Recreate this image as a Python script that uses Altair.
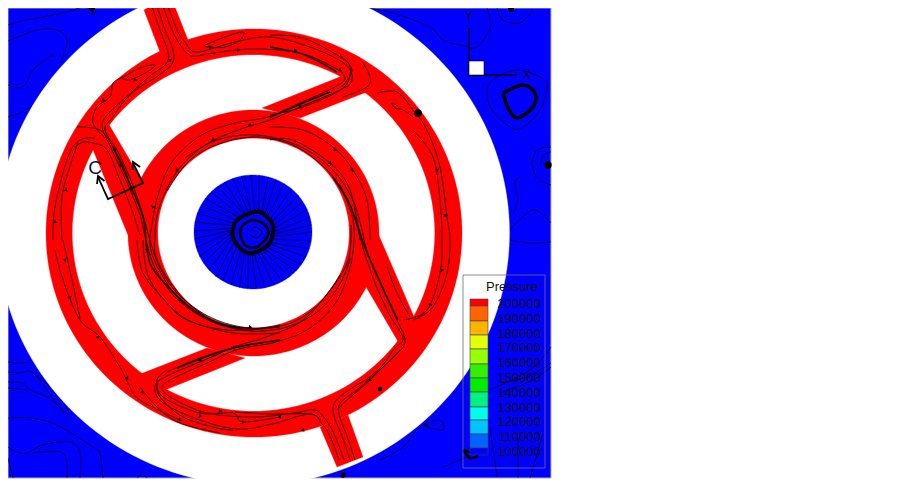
import math
import altair as alt
import pandas as pd

FRAME = [8, 551, 8, 478]
WHITE_DISC = (253.5, 233, 256, 252)
OUTER_RING = (254, 233, 208, 204)
OUTER_HOLE = (253.5, 233, 181, 178)
INNER_RING = (253.5, 233, 125.5, 123)
INNER_HOLE = (253.5, 233, 95.5, 94.5)
HUB = (253, 232, 59, 57)

BANDS = [
    [(352, 72), (377, 88), (300, 118), (262, 108)],
    [(104, 116), (145, 186), (128, 235), (89, 140)],
    [(418, 326), (403, 350), (362, 280), (377, 231)],
    [(155, 394), (130, 378), (207, 348), (245, 358)],
    [(144, 10), (157, 2), (173, 2), (188, 40), (160, 52)],
    [(320, 427), (348, 415), (363, 457), (337, 467)],
]

RED_STREAMS = [
    [(152,6),(160,30),(168,52),(166,64),(150,76),(132,92),(112,110),(102,125),(112,150),(128,185),(140,215),(146,240),(155,268),(176,298),(208,320),(250,331),(290,326),(322,308),(342,280),(350,258)],
    [(157,6),(165,30),(173,50),(172,64),(155,78),(140,87),(125,100),(113,117),(105,130),(118,152),(132,183),(143,215),(150,240),(160,268),(180,296),(212,318),(250,328),(288,324),(318,305),(340,275)],
    [(163,6),(172,30),(181,46),(192,56),(213,53),(253,49),(300,53),(335,68),(345,78),(335,87),(300,103),(268,117),(235,123),(200,136),(172,162),(158,195),(152,225),(150,245),(158,268),(180,300),(213,322),(247,329),(280,325)],
    [(168,6),(177,30),(185,42),(197,52),(235,42),(270,37),(310,47),(345,64),(352,80),(340,90),(300,107),(270,120),(238,130),(205,145),(178,170),(160,205),(155,235),(158,262),(185,300),(218,323),(250,328)],
    [(355,460),(347,436),(339,414),(341,402),(357,390),(375,374),(395,356),(405,341),(395,316),(379,281),(367,251),(361,226),(352,198),(331,168),(299,146),(257,135),(217,140),(185,158)],
    [(350,460),(342,436),(334,416),(335,402),(352,388),(367,379),(382,366),(394,349),(403,338),(389,314),(375,283),(364,251),(357,226),(347,198),(327,170),(295,146),(257,137),(219,144),(189,161),(167,191)],
    [(344,460),(335,436),(326,420),(315,410),(294,413),(254,417),(207,413),(172,398),(162,388),(172,379),(207,363),(239,349),(272,343),(307,330),(335,304),(349,271),(354,241),(352,215),(340,185)],
    [(339,460),(330,436),(322,424),(310,414),(272,424),(237,429),(197,419),(162,402),(155,386),(167,376),(207,359),(237,346),(269,336),(302,321),(327,294),(348,261),(351,225)],
    [(205,45),(225,37),(243,32),(240,40),(225,47),(207,47),(205,45)],
    [(122,78),(140,68),(155,65),(147,72),(130,80),(122,78)],
    [(123,77),(113,83),(110,97),(97,107),(93,123),(105,138)],
    [(77,127),(100,130),(113,147),(125,170),(133,195)],
    [(75,147),(83,142),(93,143),(107,150),(120,180),(132,210),(140,235)],
    [(62,240),(62,197),(72,160),(78,143)],
    [(53,240),(55,207),(68,157),(80,140),(95,138)],
    [(55,250),(63,280),(80,320),(100,337),(120,367),(128,383),(140,400),(180,420)],
    [(63,240),(72,280),(80,318)],
    [(140,387),(157,407),(180,423),(220,433)],
    [(157,383),(160,397),(183,417),(217,428),(233,430)],
    [(167,370),(157,380),(163,397),(200,413),(233,413),(243,422),(280,417)],
    [(280,340),(233,348),(200,358),(167,372)],
    [(320,420),(310,414),(270,414),(235,412)],
    [(337,410),(347,400),(370,380),(400,350)],
    [(377,93),(397,92),(413,110),(427,130),(440,167),(447,217),(450,240),(447,273),(433,307),(413,320)],
    [(413,130),(433,157),(440,200),(442,240),(440,273),(427,310),(403,320)],
    [(387,267),(397,293),(410,317)],
    [(398,106),(392,103),(395,108),(403,110),(413,117)],
    [(363,63),(370,77),(367,87),(343,97)],
    [(340,55),(352,70),(342,87)],
    [(270,35),(303,38),(337,55),(350,67),(343,88),(303,107),(270,115)],
    [(270,127),(303,130),(333,147),(353,170),(367,200),(370,240)],
    [(270,140),(293,140),(330,163),(350,190),(360,240)],
    [(137,240),(143,273),(167,303),(187,320),(233,333),(280,333)],
    [(143,240),(150,280),(183,317),(227,330),(280,327)],
]

DARK_STREAMS = [
    [(113,147),(128,180),(143,217),(147,250),(155,272),(187,305),(213,321),(240,328)],
    [(333,177),(350,205),(360,233),(366,250),(387,297),(398,320)],
    [(270,117),(303,103),(330,92)],
    [(270,47),(305,55),(337,72)],
    [(177,368),(230,349),(280,340)],
]

BLUE_STREAMS = [
    [(8,25),(27,20),(43,17),(67,12),(80,8),(90,9),(95,15),(88,13)],
    [(8,41),(23,35),(37,30),(57,30),(67,40),(63,57),(60,63)],
    [(8,85),(23,87),(33,70),(50,57),(55,57)],
    [(8,117),(20,113),(32,106)],
    [(367,8),(393,13),(430,27),(443,40),(460,45),(477,47),(490,27),(487,8)],
    [(497,8),(503,20),(520,23),(533,10)],
    [(487,87),(497,77),(517,70),(540,77),(547,87),(540,110),(523,127),(510,127),(490,107),(487,87)],
    [(532,163),(537,150),(551,147)],
    [(532,163),(537,178),(551,185)],
    [(540,165),(544,155),(551,152)],
    [(513,213),(518,200),(515,183),(520,177)],
    [(510,230),(533,210),(551,223)],
    [(510,240),(530,243),(551,242)],
    [(500,383),(527,377),(551,363)],
    [(500,393),(533,380),(551,367)],
    [(490,390),(530,370),(551,347)],
    [(380,460),(403,447),(420,427),(440,420),(443,430),(427,427)],
    [(443,467),(467,457),(477,453)],
    [(490,427),(497,477)],
    [(518,437),(518,478)],
    [(543,433),(530,478)],
    [(8,362),(20,363),(30,362)],
    [(8,372),(20,373),(32,372),(47,390),(63,412),(68,410),(50,387),(33,373)],
    [(8,382),(23,383),(30,390),(47,397),(63,410)],
    [(8,388),(27,390)],
    [(8,418),(30,418),(57,425),(93,447),(100,453)],
    [(8,447),(17,452),(27,453),(43,445),(70,442),(80,453),(80,478)],
    [(100,450),(103,478)],
    [(33,453),(63,453),(67,478)],
    [(8,458),(13,478)],
    [(137,478),(142,474),(147,478)],
]

THICK_STREAMS = [
    ([(235,222),(245,215),(260,212),(272,223),(273,233),(268,245),(253,253),(242,250),(233,237),(235,222)], 4),
    ([(243,225),(253,220),(265,225),(268,235),(257,247),(245,245),(240,233),(243,225)], 2.6),
    ([(250,232),(255,227),(262,232),(257,238),(250,235)], 1),
    ([(503,93),(523,85),(535,93),(533,107),(517,118),(508,108),(503,93)], 3.4),
    ([(463,450),(477,455),(470,458),(463,450)], 2.5),
]

DOTS = [(418, 113, 60), (380, 389, 22), (92, 8, 40), (511, 9, 35), (548, 165, 55), (343, 475, 30), (426, 425, 10)]

ARROWS = [
    (55,222,0),(66,190,10),(65,260,165),(70,298,155),(98,337,145),(127,378,150),(142,392,140),
    (200,416,105),(220,411,95),(243,422,100),(180,420,110),(115,150,150),(120,165,150),(170,60,60),
    (135,80,-135),(103,100,-140),(210,47,80),(238,50,85),(295,50,100),(340,70,120),(335,150,120),
    (330,163,135),(352,170,150),(437,170,165),(445,215,175),(442,270,190),(430,305,210),
    (370,380,225),(303,430,260),(280,417,265),(200,360,245),(233,348,255),(153,207,190),
    (177,170,210),(213,140,240),(250,125,265),(300,107,250),(147,250,170),(180,300,135),(250,327,95),
]

SPOKES = [0, 9, 17, 26, 35, 43, 52, 60, 69, 78, 87, 95, 103, 112, 121, 129, 138, 147, 155, 164, 173, 181,
          190, 199, 208, 216, 225, 233, 241, 250, 259, 268, 276, 285, 293, 302, 311, 320, 328, 337, 345, 353]
SPOKE_SWIRL = [14, 12, 15, 10, 12, 14, 10, 12, 8, 10, 6, 8, 12, 14, 20, 24, 28, 26, 24, 20, 14, 10,
               8, 6, 8, 10, 8, 10, 6, 8, 6, 8, 10, 10, 12, 12, 14, 14, 16, 14, 16, 14]

SECTION = [(133, 163), (143, 183), (108, 199), (98, 177)]
SECTION_HEADS = [[(132.5, 170), (133, 162), (140, 167)], [(97, 184), (98, 176), (104.5, 181)]]

AXIS_TRIAD = [(469, 28), (469, 75), (517, 75)]
AXIS_BOX = (469, 484, 61, 75)

LEGEND_BOX = (463, 545, 275, 468)
LEGEND_EDGES = [299, 306, 321, 335, 349, 364, 378, 392, 407, 420, 434, 448, 455]
LEGEND_COLORS = ["#ff0000", "#ff6400", "#ffb400", "#e6ff00", "#96ff00", "#32f000", "#00ee00",
                 "#00f082", "#00ffe6", "#00c3ff", "#0064ff", "#0000ff"]
LEGEND_LABELS = ["200000", "190000", "180000", "170000", "160000", "150000", "140000",
                 "130000", "120000", "110000", "100000"]
LEGEND_Y0, LEGEND_STEP = 304, 14.8

X = alt.X("x:Q", scale=alt.Scale(domain=[8, 553], nice=False, zero=False), axis=None)
Y = alt.Y("y:Q", scale=alt.Scale(domain=[479, 8], nice=False, zero=False), axis=None)
X2, Y2 = alt.X2("x2:Q"), alt.Y2("y2:Q")


def ellipse(spec):
    cx, cy, rx, ry = spec
    return [(cx + rx * math.cos(math.radians(a)), cy + ry * math.sin(math.radians(a))) for a in range(0, 360, 2)]


def polygon(points, color):
    df = pd.DataFrame(points, columns=["x", "y"])
    df["o"] = range(len(df))
    return alt.Chart(df).mark_line(fill=color, stroke=color, strokeWidth=0.3, interpolate="linear-closed",
                                   clip=True).encode(x=X, y=Y, order="o:Q")


def lines(groups, width, color="#000000", opacity=0.85, interp="cardinal"):
    rows = [{"x": p[0], "y": p[1], "g": i, "o": j} for i, g in enumerate(groups) for j, p in enumerate(g)]
    return alt.Chart(pd.DataFrame(rows)).mark_line(stroke=color, strokeWidth=width, strokeOpacity=opacity,
                                                   interpolate=interp, clip=True).encode(
        x=X, y=Y, detail="g:N", order="o:Q")


def box(x1, x2, y1, y2, fill, stroke, sw=1):
    df = pd.DataFrame({"x": [x1], "x2": [x2], "y": [y1], "y2": [y2]})
    kw = dict(stroke=stroke, strokeWidth=sw, clip=True)
    kw.update(dict(fill=fill) if fill else dict(fillOpacity=0))
    return alt.Chart(df).mark_rect(**kw).encode(x=X, x2=X2, y=Y, y2=Y2)


def label(rows, size, align="center", color="#000000"):
    df = pd.DataFrame(rows, columns=["x", "y", "t"])
    return alt.Chart(df).mark_text(font="Liberation Sans", fontSize=size, align=align, baseline="middle",
                                   color=color).encode(x=X, y=Y, text="t:N")


layers = [box(FRAME[0], FRAME[1], FRAME[2], FRAME[3], "#0000ff", "#b0b0b0"),
          lines(BLUE_STREAMS, 0.8),
          polygon(ellipse(WHITE_DISC), "#ffffff"),
          polygon(ellipse(OUTER_RING), "#ff0000"),
          polygon(ellipse(OUTER_HOLE), "#ffffff")]
layers += [polygon(b, "#ff0000") for b in BANDS]
layers += [polygon(ellipse(INNER_RING), "#ff0000"),
           polygon(ellipse(INNER_HOLE), "#ffffff"),
           polygon(ellipse(HUB), "#0000ff")]

hub_x, hub_y, hub_rx, hub_ry = HUB
spokes = []
for a, s in zip(SPOKES, SPOKE_SWIRL):
    out = (hub_x + hub_rx * math.cos(math.radians(a)), hub_y + hub_ry * math.sin(math.radians(a)))
    inn = (hub_x + 20 * math.cos(math.radians(a + s)), hub_y + 20 * math.sin(math.radians(a + s)))
    spokes.append([out, inn])
layers.append(lines(spokes, 0.8, interp="linear"))

layers.append(lines(RED_STREAMS, 0.9))
layers.append(lines(DARK_STREAMS, 1.5, opacity=0.9))
for pts, w in THICK_STREAMS:
    layers.append(lines([pts], w, opacity=1))

dots = pd.DataFrame(DOTS, columns=["x", "y", "s"])
layers.append(alt.Chart(dots).mark_point(filled=True, color="#000000", opacity=1, shape="circle", clip=True).encode(
    x=X, y=Y, size=alt.Size("s:Q", scale=None, legend=None)))

arrows = pd.DataFrame(ARROWS, columns=["x", "y", "a"])
arrows["a"] = arrows["a"] % 360
layers.append(alt.Chart(arrows).mark_point(filled=True, color="#000000", opacity=1, shape="triangle", size=15,
                                           clip=True).encode(
    x=X, y=Y, angle=alt.Angle("a:Q", scale=None)))

layers.append(lines([SECTION] + SECTION_HEADS, 1.8, opacity=1, interp="linear"))
layers.append(label([(95, 168, "C")], 19, color="#101040"))

layers.append(lines([AXIS_TRIAD], 1.4, opacity=1, interp="linear"))
layers.append(box(AXIS_BOX[0], AXIS_BOX[1], AXIS_BOX[2], AXIS_BOX[3], "#ffffff", "#000000", 0.6))
layers.append(label([(469, 16, "Y"), (527, 75, "X")], 13, color="#101030"))

layers.append(box(LEGEND_BOX[0], LEGEND_BOX[1], LEGEND_BOX[2], LEGEND_BOX[3], None, "#707070", 0.8))
for i, c in enumerate(LEGEND_COLORS):
    layers.append(box(470, 488, LEGEND_EDGES[i], LEGEND_EDGES[i + 1], c, "#404040", 0.6))
layers.append(label([(538, 287, "Pressure")], 13, align="right", color="#111111"))
layers.append(label([(541, LEGEND_Y0 + i * LEGEND_STEP, t) for i, t in enumerate(LEGEND_LABELS)], 13,
                    align="right", color="#111111"))

chart = alt.layer(*layers).properties(width=545, height=471, padding=0).configure_view(stroke=None)
chart.save("out.html", embed_options={"renderer": "svg", "actions": False})
